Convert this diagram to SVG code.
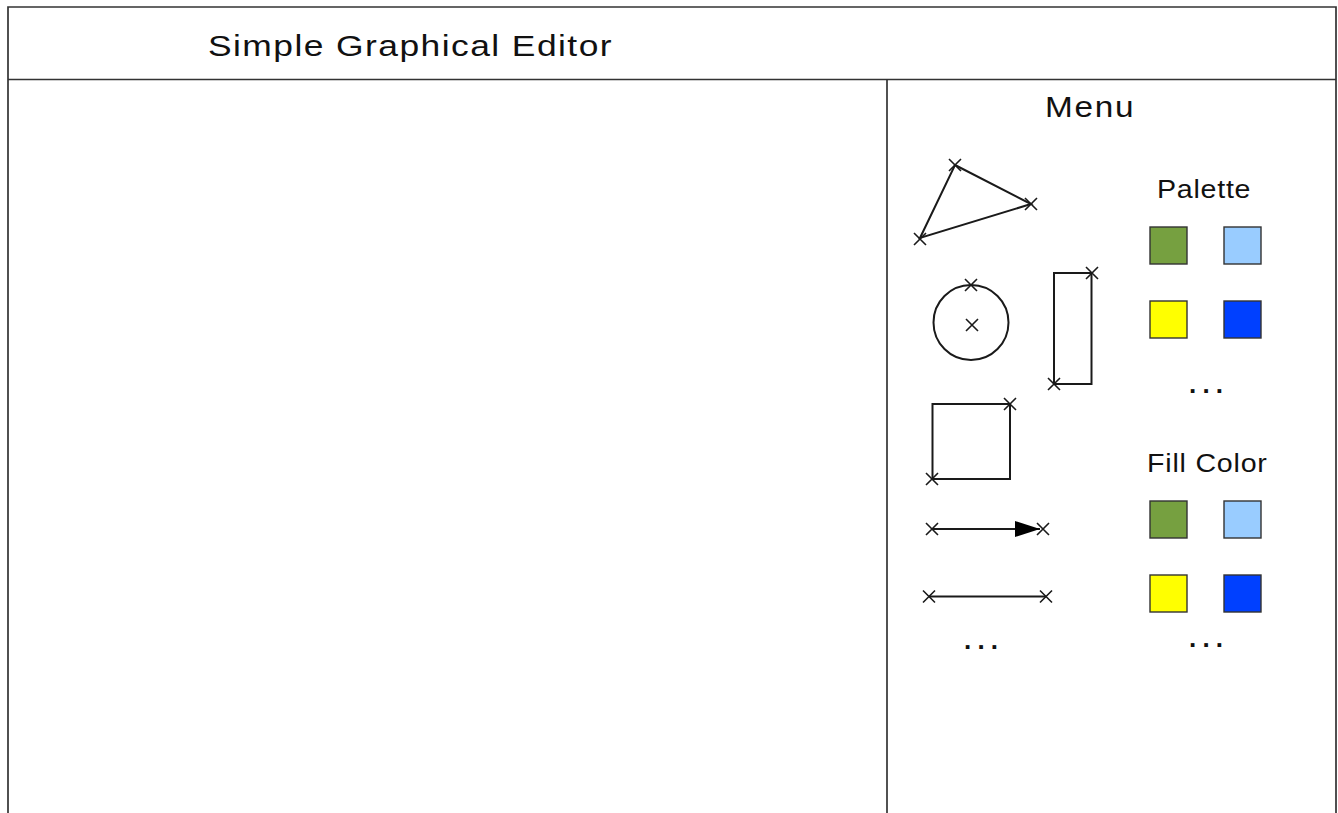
<svg xmlns="http://www.w3.org/2000/svg" xmlns:xlink="http://www.w3.org/1999/xlink" width="1338" height="813" viewBox="0 0 1338 813">
<style>
.frame{fill:none;stroke:#333;stroke-width:1.7}
.shape{fill:none;stroke:#1a1a1a;stroke-width:2}
.t{font-family:"Liberation Sans",Arial,sans-serif;fill:#111}
.sw{stroke:#333;stroke-width:1.4}
.dots{font-family:"Liberation Sans",Arial,sans-serif;font-weight:bold;font-size:26px;fill:#111}
</style>
<defs>
<path id="x" d="M-6,-6 L6,6 M-6,6 L6,-6" stroke="#1a1a1a" stroke-width="1.6" fill="none"/>
<marker id="ah" markerWidth="26" markerHeight="16" refX="25" refY="8" orient="auto" markerUnits="userSpaceOnUse">
<path d="M0,0 L25,8 L0,16 Z" fill="#000"/>
</marker>
</defs>
<rect width="1338" height="813" fill="#fff"/>
<g id="window">
<path class="frame" d="M8,830 L8,7 L1336,7 L1336,830"/>
<line class="frame" x1="8" y1="79.5" x2="1336" y2="79.5"/>
<line class="frame" x1="887" y1="79.5" x2="887" y2="830"/>
<g transform="translate(208,56) scale(1.18,1)">
<text class="t" x="0" y="0" font-size="30" textLength="342" lengthAdjust="spacing">Simple Graphical Editor</text>
</g>
</g>
<g id="menu">
<g transform="translate(1045,117) scale(1.15,1)">
<text class="t" x="0" y="0" font-size="29" textLength="77" lengthAdjust="spacing">Menu</text>
</g>
</g>
<g id="triangle">
<polygon class="shape" points="955,165 1031,204 920,238"/>
<use xlink:href="#x" x="955" y="165"/>
<use xlink:href="#x" x="1031" y="204"/>
<use xlink:href="#x" x="920" y="239"/>
</g>
<g id="circle">
<circle class="shape" cx="971" cy="322.5" r="37.5"/>
<use xlink:href="#x" x="971" y="285"/>
<use xlink:href="#x" x="972" y="325"/>
</g>
<g id="tall-rect">
<rect class="shape" x="1054" y="273" width="37.5" height="111"/>
<use xlink:href="#x" x="1092" y="273"/>
<use xlink:href="#x" x="1054" y="384"/>
</g>
<g id="square">
<rect class="shape" x="932.5" y="404" width="77.5" height="75"/>
<use xlink:href="#x" x="1010" y="404"/>
<use xlink:href="#x" x="932" y="479"/>
</g>
<g id="connectors">
<g id="arrow-line">
<line class="shape" x1="932" y1="529" x2="1040" y2="529" marker-end="url(#ah)"/>
<use xlink:href="#x" x="932" y="529"/>
<use xlink:href="#x" x="1043" y="529"/>
</g>
<g id="plain-line">
<line class="shape" x1="929" y1="596.5" x2="1046" y2="596.5"/>
<use xlink:href="#x" x="929" y="596.5"/>
<use xlink:href="#x" x="1046" y="596.5"/>
</g>
</g>
<g id="shapes-more">
<text class="dots" x="964" y="649" textLength="34" lengthAdjust="spacing">...</text>
</g>
<g id="palette">
<g transform="translate(1157,198) scale(1.1,1)">
<text class="t" x="0" y="0" font-size="26" textLength="85" lengthAdjust="spacing">Palette</text>
</g>
<rect class="sw" x="1150" y="227" width="37" height="37" fill="#76a040"/>
<rect class="sw" x="1224" y="227" width="37" height="37" fill="#99ccff"/>
<rect class="sw" x="1150" y="301" width="37" height="37" fill="#ffff00"/>
<rect class="sw" x="1224" y="301" width="37" height="37" fill="#0040ff"/>
<text class="dots" x="1189" y="393" textLength="34" lengthAdjust="spacing">...</text>
</g>
<g id="fill-color">
<g transform="translate(1147,472) scale(1.1,1)">
<text class="t" x="0" y="0" font-size="26" textLength="109" lengthAdjust="spacing">Fill Color</text>
</g>
<rect class="sw" x="1150" y="501" width="37" height="37" fill="#76a040"/>
<rect class="sw" x="1224" y="501" width="37" height="37" fill="#99ccff"/>
<rect class="sw" x="1150" y="575" width="37" height="37" fill="#ffff00"/>
<rect class="sw" x="1224" y="575" width="37" height="37" fill="#0040ff"/>
<text class="dots" x="1189" y="647" textLength="34" lengthAdjust="spacing">...</text>
</g>
</svg>
